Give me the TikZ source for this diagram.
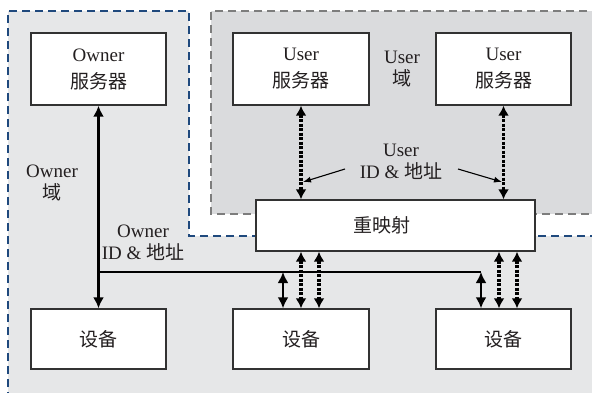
\documentclass[tikz,border=0pt]{standalone}
\usepackage{fontspec}
\setmainfont{Liberation Serif}
\newfontfamily\cjk{Noto Sans CJK SC}
\newcommand{\zh}[1]{{\cjk #1}}
\usetikzlibrary{arrows.meta}
\definecolor{ownfill}{RGB}{230,231,232}
\definecolor{usrfill}{RGB}{218,219,221}
\definecolor{bluedash}{RGB}{31,73,125}
\definecolor{graydash}{RGB}{125,125,125}
\definecolor{txt}{RGB}{35,31,32}
\definecolor{edge}{RGB}{50,50,50}
\begin{document}
\begin{tikzpicture}[x=1bp,y=-1bp,
  every node/.style={font=\fontsize{19bp}{22bp}\selectfont, text=txt, align=center, inner sep=0pt},
  box/.style={draw=edge, line width=1.4bp, fill=white, minimum width=135bp, minimum height=72bp,
    font=\fontsize{19bp}{27bp}\selectfont},
  devbox/.style={box, minimum height=60bp},
  domdash/.style={line width=2.6bp, dash pattern=on 8bp off 5bp},
  solidarr/.style={line width=2.2bp, black, {Latex[length=11bp,width=11bp]}-{Latex[length=11bp,width=11bp]}},
  solidline/.style={line width=2.2bp, black},
  dotarr/.style={line width=3.2bp, black, dash pattern=on 3bp off 1.5bp,
    {Latex[length=10bp,width=11bp]}-{Latex[length=10bp,width=11bp]}},
  ptr/.style={line width=1.1bp, black, -{Latex[length=8bp,width=6bp]}}
]
\useasboundingbox (0,0) rectangle (592,392);
\clip (0,0) rectangle (592,392);
% domains
\fill[ownfill] (8,11) -- (189,11) -- (189,236) -- (600,236) -- (600,400) -- (8,400) -- cycle;
\draw[bluedash, domdash] (8,400) -- (8,11) -- (189,11) -- (189,236) -- (600,236);
\fill[usrfill] (211,11) rectangle (600,214);
\draw[graydash, domdash] (600,11) -- (211,11) -- (211,214) -- (600,214);
% boxes
\node[box] (os) at (98.5,69) {Owner\\\zh{服务器}};
\node[box, minimum width=136bp] (us1) at (301,69) {User\\\zh{服务器}};
\node[box] (us2) at (503.5,69) {User\\\zh{服务器}};
\node[box, minimum width=279bp, minimum height=51bp,
  label={[xshift=-14bp, text=txt]center:\zh{重映射}}] (rm) at (395.5,225.5) {};
\node[devbox] (d1) at (98.5,339) {\zh{设备}};
\node[devbox, minimum width=136bp] (d2) at (301,339) {\zh{设备}};
\node[devbox] (d3) at (503.5,339) {\zh{设备}};
% labels
\node (od) at (52,183) {Owner\\\zh{域}};
\node (ud) at (402,69) {User\\\zh{域}};
\node (uid) at (401,162) {User\\ID \& \zh{地址}};
\node (oid) at (143,243) {Owner\\ID \& \zh{地址}};
% coordinates
\coordinate (j1) at (98.5,272);
\coordinate (j2) at (283,272);
\coordinate (j3) at (481,272);
\coordinate (a1) at (301,0);
\coordinate (a2) at (319,0);
\coordinate (a3) at (499,0);
\coordinate (a4) at (517,0);
\coordinate (p1) at (345,169);
\coordinate (q1) at (303,182);
\coordinate (p2) at (458,169);
\coordinate (q2) at (502,182);
% owner connections
\draw[solidarr] (os.south) -- (d1.north);
\draw[solidline] (j1) -- (j3);
\draw[solidarr] (j2) -- (j2 |- d2.north);
\draw[solidarr] (j3) -- (j3 |- d3.north);
% user connections
\draw[dotarr] (us1.south) -- (us1.south |- rm.north);
\draw[dotarr] (us2.south) -- (us2.south |- rm.north);
\draw[dotarr] (a1 |- rm.south) -- (a1 |- d2.north);
\draw[dotarr] (a2 |- rm.south) -- (a2 |- d2.north);
\draw[dotarr] (a3 |- rm.south) -- (a3 |- d3.north);
\draw[dotarr] (a4 |- rm.south) -- (a4 |- d3.north);
% pointers
\draw[ptr] (p1) -- (q1);
\draw[ptr] (p2) -- (q2);
\end{tikzpicture}
\end{document}
